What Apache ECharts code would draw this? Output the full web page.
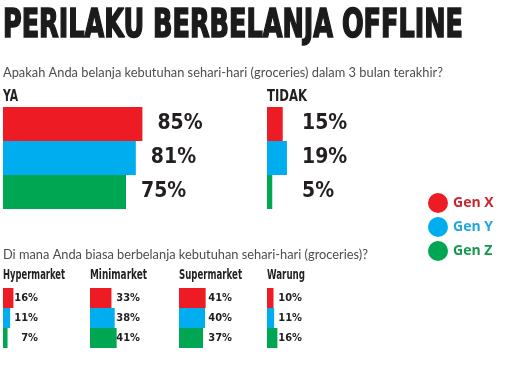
<!DOCTYPE html>
<html>
<head>
<meta charset="utf-8">
<script src="https://cdn.jsdelivr.net/npm/echarts@6/dist/echarts.min.js"></script>
<style>html,body{margin:0;padding:0;background:#fff;}#c{width:529px;height:370px;}</style>
</head>
<body>
<div id="c"></div>
<script>
const groups = ['Gen X', 'Gen Y', 'Gen Z'];
const colors = ['#ed1c24', '#00aeef', '#00a651'];
const legendTextColors = ['#c8262e', '#1ea6de', '#12984f'];
const yaValues = [85, 81, 75];
const tidakValues = [15, 19, 5];
const storeCats = ['Hypermarket', 'Minimarket', 'Supermarket', 'Warung'];
const genXStores = [16, 33, 41, 10];
const genYStores = [11, 38, 40, 11];
const genZStores = [7, 41, 37, 16];

const titleText = 'PERILAKU BERBELANJA OFFLINE';
const q1Text = 'Apakah Anda belanja kebutuhan sehari-hari (groceries) dalam 3 bulan terakhir?';
const q2Text = 'Di mana Anda biasa berbelanja kebutuhan sehari-hari (groceries)?';

const NARROW = '"Liberation Sans Narrow", "DejaVu Sans Condensed", sans-serif';
const labelColor = '#231f20';

const storeVals = storeCats.map((c, i) => [genXStores[i], genYStores[i], genZStores[i]]);
const panels = [
  { vals: yaValues, grid: { left: 3, top: 107, width: 164, height: 102 },
    label: { position: 'right', distance: 15, fontSize: 21 } },
  { vals: tidakValues, grid: { left: 267, top: 107, width: 105, height: 102 },
    label: { position: [35, '50%'], align: 'left', verticalAlign: 'middle', fontSize: 21 } }
];
const storeLefts = [3, 90, 179, 267];
const storeLabelX = [35, 50, 53, 35];
storeVals.forEach((v, i) => {
  panels.push({ vals: v, grid: { left: storeLefts[i], top: 288, width: 65, height: 60 },
    label: { position: [storeLabelX[i], '50%'], align: 'right', verticalAlign: 'middle', fontSize: 11 } });
});

const grid = [], xAxis = [], yAxis = [], series = [];
panels.forEach((p, gi) => {
  grid.push(Object.assign({ containLabel: false }, p.grid));
  xAxis.push({ type: 'value', gridIndex: gi, min: 0, max: 100, show: false });
  yAxis.push({ type: 'category', gridIndex: gi, data: ['v'], inverse: true, show: false });
  groups.forEach((g, si) => {
    series.push({
      type: 'bar', name: g, xAxisIndex: gi, yAxisIndex: gi,
      barGap: '0%', barCategoryGap: '0%',
      itemStyle: { color: colors[si] },
      silent: true,
      label: Object.assign({
        show: true, formatter: '{c}%', color: labelColor,
        fontFamily: NARROW, fontWeight: 'bold'
      }, p.label),
      data: [p.vals[si]]
    });
  });
});

const mctx = document.createElement('canvas').getContext('2d');
function fitScale(text, fontSize, family, weight, target) {
  mctx.font = (weight || 'normal') + ' ' + fontSize + 'px ' + family;
  const w = mctx.measureText(text).width;
  return Math.min(1, target / w);
}

const textEl = (text, x, y, font, fill, target) => {
  const el = {
    type: 'text', x: x, y: y, silent: true,
    style: Object.assign({ text: text, fill: fill, verticalAlign: 'middle' }, font)
  };
  if (target) el.scaleX = fitScale(text, font.fontSize, font.fontFamily, font.fontWeight, target);
  return el;
};

const titleFont = { fontSize: 39, fontFamily: NARROW, fontWeight: 'bold', stroke: '#1b1b1b', lineWidth: 1.6 };
const headFont = { fontSize: 14, fontFamily: NARROW, fontWeight: 'bold' };
const headFontBig = { fontSize: 15, fontFamily: NARROW, fontWeight: 'bold' };
const qFont = { fontSize: 13, fontFamily: 'Lato' };

const graphic = [
  textEl(titleText, 3, 27, titleFont, '#1b1b1b', 460),
  textEl(q1Text, 3, 73, qFont, '#4d4d4d', 440),
  textEl('YA', 3, 97, headFontBig, labelColor, 15),
  textEl('TIDAK', 267, 97, headFontBig, labelColor, 40),
  textEl(q2Text, 3, 255, qFont, '#4d4d4d', 365)
];
const headTargets = [62, 57, 63, 38];
storeCats.forEach((c, i) => {
  graphic.push(textEl(c, storeLefts[i], 275, headFont, labelColor, headTargets[i]));
});

const chart = echarts.init(document.getElementById('c'), null, { renderer: 'canvas' });
chart.setOption({
  animation: false,
  backgroundColor: '#ffffff',
  grid, xAxis, yAxis, series, graphic,
  legend: {
    orient: 'vertical', left: 423, top: 188,
    itemWidth: 20, itemHeight: 20, itemGap: 4, icon: 'circle',
    selectedMode: false,
    textStyle: { fontFamily: '"Open Sans", sans-serif', fontWeight: 'bold', fontSize: 14 },
    data: groups.map((g, i) => ({ name: g, textStyle: { color: legendTextColors[i] } }))
  }
});
</script>
</body>
</html>
